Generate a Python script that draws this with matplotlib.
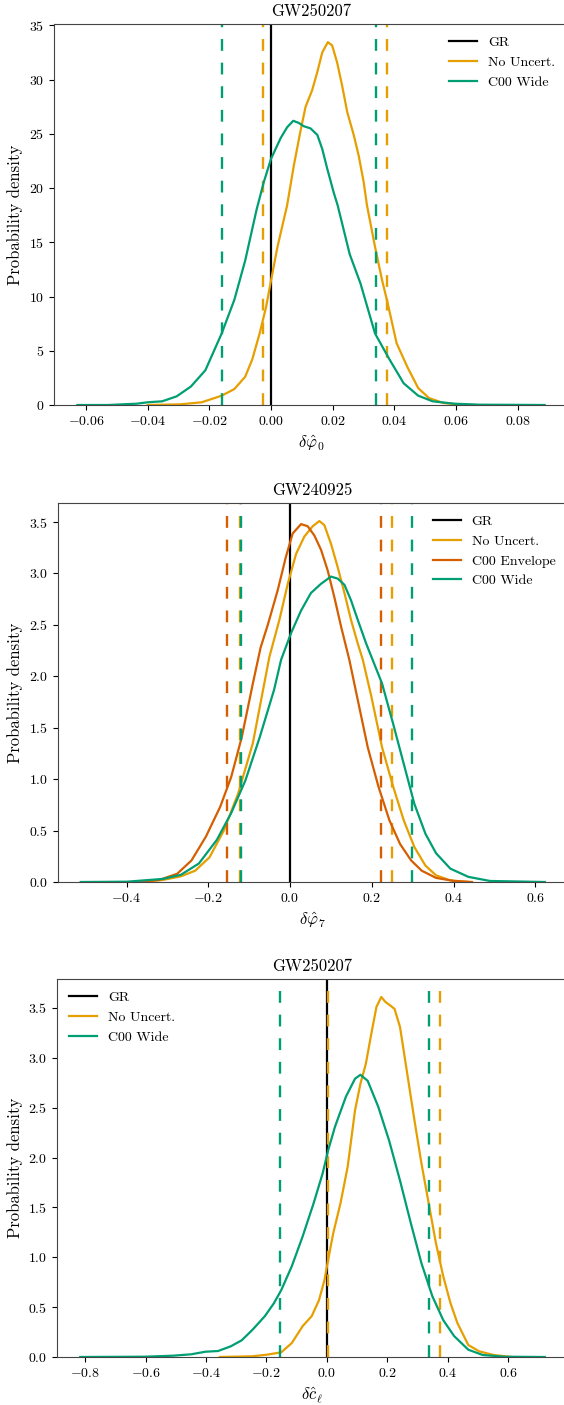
import numpy as np
import matplotlib
matplotlib.use("Agg")
import matplotlib.pyplot as plt

plt.rcParams["font.family"] = "serif"
plt.rcParams["font.serif"] = ["cmr10", "DejaVu Serif"]
plt.rcParams["mathtext.fontset"] = "cm"
plt.rcParams["axes.formatter.use_mathtext"] = True
plt.rcParams["axes.unicode_minus"] = True
plt.rcParams["font.size"] = 10

# -----------------------------
# colores
# -----------------------------
C_GR = "black"
C_NOUNC = "#E69F00"
C_ENV = "#D55E00"
C_WIDE = "#009E73"

# -----------------------------
# PANEL 1: GW250207, delta phi_0
# -----------------------------
p1_nounc_x = [-0.040, -0.0295, -0.0225, -0.016, -0.0119, -0.0084, -0.0061, -0.0037,
              -0.0016, 0.0, 0.0021, 0.0052, 0.0074, 0.0095, 0.0112, 0.0133, 0.0150,
              0.0166, 0.0184, 0.0198, 0.0214, 0.0230, 0.0247, 0.0268, 0.0284, 0.0300,
              0.0311, 0.0337, 0.036, 0.0378, 0.0407, 0.0442, 0.0477, 0.0512, 0.0559,
              0.0618, 0.066]
p1_nounc_y = [0.0, 0.06, 0.25, 0.86, 1.47, 2.6, 4.2, 6.6,
              9.05, 11.5, 14.6, 18.4, 22.1, 25.2, 27.5, 29.0, 30.7,
              32.5, 33.45, 33.15, 31.6, 29.5, 27.0, 24.9, 23.0, 20.6,
              18.4, 14.6, 11.5, 9.4, 5.7, 3.5, 1.56, 0.64, 0.18,
              0.03, 0.0]
p1_wide_x = [-0.0628, -0.0529, -0.0435, -0.040, -0.0353, -0.0306, -0.026, -0.0213,
             -0.016, -0.0119, -0.0084, -0.0047, -0.0023, 0.0, 0.0031, 0.0052, 0.0072,
             0.0090, 0.0106, 0.0128, 0.0150, 0.0166, 0.0182, 0.0203, 0.0216, 0.0255,
             0.029, 0.0337, 0.0384, 0.043, 0.0477, 0.0524, 0.0594, 0.0676, 0.0887]
p1_wide_y = [0.0, 0.0, 0.12, 0.25, 0.34, 0.8, 1.7, 3.2,
             6.6, 9.7, 13.3, 18.0, 20.6, 22.7, 24.6, 25.6, 26.2,
             26.0, 25.7, 25.5, 24.9, 23.6, 21.8, 19.6, 18.4, 13.9,
             11.2, 6.6, 4.2, 2.0, 0.86, 0.34, 0.12, 0.03, 0.0]
p1_nounc_ci = [-0.0026, 0.0375]
p1_wide_ci = [-0.016, 0.034]

# -----------------------------
# PANEL 2: GW240925, delta phi_7
# -----------------------------
p2_nounc_x = [-0.355, -0.311, -0.267, -0.232, -0.197, -0.162, -0.127, -0.091, -0.0505,
              -0.026, -0.0056, 0.0147, 0.035, 0.0555, 0.0717, 0.0839, 0.100, 0.1166,
              0.133, 0.149, 0.1655, 0.178, 0.199, 0.225, 0.252, 0.278, 0.304, 0.331,
              0.357, 0.392, 0.436]
p2_nounc_y = [0.003, 0.02, 0.055, 0.11, 0.24, 0.5, 0.86, 1.35, 2.19,
              2.55, 2.90, 3.19, 3.36, 3.46, 3.51, 3.47, 3.29, 3.06,
              2.81, 2.55, 2.32, 2.16, 1.80, 1.31, 0.93, 0.6, 0.34, 0.16,
              0.065, 0.016, 0.0]
p2_env_x = [-0.373, -0.32, -0.276, -0.241, -0.206, -0.171, -0.144, -0.118, -0.091,
            -0.072, -0.0545, -0.030, -0.0103, 0.0065, 0.027, 0.043, 0.0594, 0.0758,
            0.092, 0.1083, 0.125, 0.145, 0.164, 0.190, 0.216, 0.243, 0.269, 0.296,
            0.322, 0.357, 0.401, 0.445]
p2_env_y = [0.0, 0.02, 0.08, 0.21, 0.44, 0.73, 1.02, 1.41, 1.93,
            2.28, 2.50, 2.84, 3.16, 3.39, 3.48, 3.46, 3.37, 3.23,
            3.03, 2.77, 2.48, 2.16, 1.80, 1.31, 0.93, 0.60, 0.37, 0.21,
            0.11, 0.04, 0.01, 0.0]
p2_wide_x = [-0.512, -0.399, -0.311, -0.267, -0.223, -0.179, -0.144, -0.109, -0.074,
             -0.039, -0.022, 0.0024, 0.027, 0.051, 0.0758, 0.100, 0.1166, 0.133,
             0.149, 0.1655, 0.186, 0.202, 0.225, 0.252, 0.278, 0.304, 0.331, 0.357,
             0.392, 0.436, 0.489, 0.623]
p2_wide_y = [0.0, 0.003, 0.03, 0.07, 0.18, 0.41, 0.67, 0.99, 1.41,
             1.87, 2.16, 2.42, 2.64, 2.81, 2.90, 2.97, 2.95, 2.89,
             2.74, 2.55, 2.32, 2.16, 1.93, 1.54, 1.15, 0.76, 0.47, 0.28,
             0.13, 0.05, 0.01, 0.0]
p2_nounc_ci = [-0.122, 0.25]
p2_env_ci = [-0.153, 0.223]
p2_wide_ci = [-0.12, 0.298]

# -----------------------------
# PANEL 3: GW250207, delta c_l
# -----------------------------
p3_nounc_x = [-0.354, -0.247, -0.199, -0.151, -0.116, -0.080, -0.050, -0.026, -0.008,
              0.004, 0.021, 0.045, 0.069, 0.093, 0.111, 0.129, 0.147, 0.164, 0.180,
              0.194, 0.212, 0.224, 0.242, 0.266, 0.290, 0.313, 0.337, 0.361, 0.385,
              0.409, 0.432, 0.468, 0.504, 0.552, 0.611]
p3_nounc_y = [0.0, 0.007, 0.023, 0.047, 0.14, 0.31, 0.41, 0.57, 0.77,
              0.97, 1.24, 1.54, 1.91, 2.47, 2.74, 2.94, 3.24, 3.51, 3.61,
              3.56, 3.52, 3.49, 3.31, 2.84, 2.37, 1.94, 1.54, 1.14, 0.81,
              0.54, 0.34, 0.12, 0.057, 0.02, 0.0]
p3_wide_x = [-0.816, -0.604, -0.509, -0.449, -0.402, -0.360, -0.318, -0.282, -0.247,
             -0.205, -0.175, -0.151, -0.116, -0.080, -0.044, -0.014, 0.004, 0.027,
             0.063, 0.093, 0.111, 0.135, 0.170, 0.206, 0.242, 0.278, 0.313, 0.349,
             0.385, 0.421, 0.468, 0.516, 0.587, 0.721]
p3_wide_y = [0.0, 0.003, 0.013, 0.027, 0.053, 0.06, 0.107, 0.167, 0.27,
             0.41, 0.54, 0.67, 0.91, 1.21, 1.54, 1.84, 2.07, 2.31,
             2.61, 2.79, 2.83, 2.77, 2.51, 2.17, 1.77, 1.34, 0.94, 0.61,
             0.37, 0.21, 0.073, 0.02, 0.003, 0.0]
p3_nounc_ci = [0.0024, 0.375]
p3_wide_ci = [-0.155, 0.338]

titles = ["GW250207", "GW240925", "GW250207"]
xlabels = [r"$\delta\hat{\varphi}_0$", r"$\delta\hat{\varphi}_7$", r"$\delta\hat{c}_\ell$"]

panels = [
    [("No Uncert.", C_NOUNC, p1_nounc_x, p1_nounc_y, p1_nounc_ci),
     ("C00 Wide", C_WIDE, p1_wide_x, p1_wide_y, p1_wide_ci)],
    [("No Uncert.", C_NOUNC, p2_nounc_x, p2_nounc_y, p2_nounc_ci),
     ("C00 Envelope", C_ENV, p2_env_x, p2_env_y, p2_env_ci),
     ("C00 Wide", C_WIDE, p2_wide_x, p2_wide_y, p2_wide_ci)],
    [("No Uncert.", C_NOUNC, p3_nounc_x, p3_nounc_y, p3_nounc_ci),
     ("C00 Wide", C_WIDE, p3_wide_x, p3_wide_y, p3_wide_ci)],
]
legend_loc = ["upper right", "upper right", "upper left"]

# posiciones de los ejes en pixeles (izq, abajo, der, arriba)
W, H = 564, 1405
boxes = [(54, 405, 568, 24), (57.5, 882, 568, 503), (57, 1357, 568, 979)]

fig = plt.figure(figsize=(W / 100, H / 100), dpi=100)

for i in range(3):
    l, b, r, t = boxes[i]
    ax = fig.add_axes([l / W, (H - b) / H, (r - l) / W, (b - t) / H])
    ax.axvline(0, color=C_GR, lw=1.6, label="GR")
    for label, color, xs, ys, ci in panels[i]:
        ax.plot(xs, ys, color=color, lw=1.6, label=label, solid_joinstyle="round")
        for c in ci:
            ax.axvline(c, color=color, lw=1.7, dashes=(5, 5))
    ax.set_ylim(bottom=0)
    ax.set_title(titles[i], fontsize=12)
    ax.set_xlabel(xlabels[i], fontsize=12)
    ax.set_ylabel("Probability density", fontsize=12)
    ax.legend(loc=legend_loc[i], frameon=False, fontsize=10)
    for s in ax.spines.values():
        s.set_color("#444444")

fig.savefig("out.png", dpi=100)
